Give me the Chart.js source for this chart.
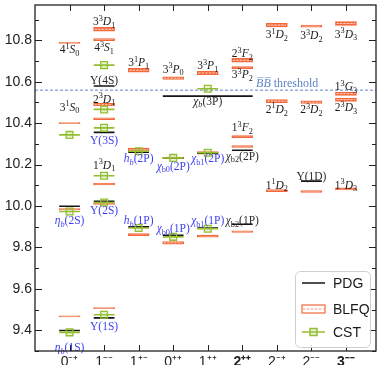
<!DOCTYPE html>
<html>
<head>
<meta charset="utf-8">
<title>Bottomonium spectrum</title>
<script src="https://cdn.jsdelivr.net/npm/chart.js@4.4.0/dist/chart.umd.min.js"></script>
<style>
  body { margin: 0; background: #fff; }
  #wrap { width: 377px; height: 365px; position: relative; }
</style>
</head>
<body>
<div id="wrap"><canvas id="spectrum"></canvas></div>
<script>
'use strict'

// Bottomonium spectrum: PDG vs BLFQ vs CST, grouped by J^PC

// x axis categories
let categories = ['0⁻⁺', '1⁻⁻', '1⁺⁻', '0⁺⁺', '1⁺⁺', '2⁺⁺', '2⁻⁺', '2⁻⁻', '3⁻⁻'];
let boldCategories = ['2⁺⁺', '3⁻⁻'];
let yTicks = [9.4, 9.6, 9.8, 10.0, 10.2, 10.4, 10.6, 10.8];

// PDG masses (GeV); chi_b(3P) spans 0++ .. 2++
let pdgFrom = [0, 0, 1, 1, 1, 1, 2, 2, 3, 3, 4, 4, 5, 5, 7, 3];
let pdgTo = [0, 0, 1, 1, 1, 1, 2, 2, 3, 3, 4, 4, 5, 5, 7, 5];
let pdgMass = [9.399, 9.999, 9.460, 10.023, 10.355, 10.579, 9.899, 10.260, 9.859, 10.233, 9.893, 10.255, 9.912, 10.269, 10.120, 10.530];

// BLFQ masses and their uncertainty (half width, GeV)
let blfqCat = [0, 0, 0, 0, 1, 1, 1, 1, 1, 1, 1, 2, 2, 2, 3, 3, 3, 4, 4, 4, 5, 5, 5, 5, 5, 6, 6, 6, 7, 7, 7, 8, 8, 8, 8];
let blfqMass = [9.467, 9.984, 10.400, 10.787,
  9.507, 10.011, 10.106, 10.421, 10.489, 10.803, 10.853,
  9.862, 10.271, 10.655,
  9.822, 10.232, 10.617,
  9.854, 10.256, 10.642,
  9.876, 10.287, 10.335, 10.668, 10.703,
  10.074, 10.506, 10.873,
  10.070, 10.501, 10.868,
  10.082, 10.513, 10.542, 10.881];
let blfqErr = [0.003, 0.003, 0.003, 0.003,
  0.003, 0.004, 0.004, 0.004, 0.006, 0.005, 0.009,
  0.005, 0.008, 0.009,
  0.006, 0.004, 0.006,
  0.005, 0.006, 0.008,
  0.004, 0.005, 0.005, 0.005, 0.009,
  0.005, 0.008, 0.009,
  0.004, 0.006, 0.005,
  0.005, 0.008, 0.008, 0.009];

// CST masses
let cstCat = [0, 0, 0, 1, 1, 1, 1, 1, 1, 2, 2, 3, 3, 4, 4, 4];
let cstMass = [9.390, 9.973, 10.343, 9.475, 10.017, 10.146, 10.377, 10.466, 10.680, 9.894, 10.264, 9.851, 10.232, 9.890, 10.257, 10.566];

let bbThreshold = 10.559;

// state names (markup: *italic*, ^{sup}, _{sub})
let labelText = [
  '4^{1}*S*_{0}', '3^{1}*S*_{0}', '*η*_{*b*}(2S)', '*η*_{*b*}(1S)',
  '3^{3}*D*_{1}', '4^{3}*S*_{1}', 'Υ(4S)', '2^{3}*D*_{1}', 'Υ(3S)', '1^{3}*D*_{1}', 'Υ(2S)', 'Υ(1S)',
  '3^{1}*P*_{1}', '*h*_{*b*}(2P)', '*h*_{*b*}(1P)',
  '3^{3}*P*_{0}', '*χ*_{b0}(2P)', '*χ*_{b0}(1P)',
  '3^{3}*P*_{1}', '*χ*_{*b*}(3P)', '*χ*_{b1}(2P)', '*χ*_{b1}(1P)',
  '2^{3}*F*_{2}', '3^{3}*P*_{2}', '1^{3}*F*_{2}', '*χ*_{b2}(2P)', '*χ*_{b2}(1P)',
  '3^{1}*D*_{2}', '2^{1}*D*_{2}', '1^{1}*D*_{2}',
  '3^{3}*D*_{2}', '2^{3}*D*_{2}', 'Υ(1D)',
  '3^{3}*D*_{3}', '1^{3}*G*_{3}', '2^{3}*D*_{3}', '1^{3}*D*_{3}'
];
let labelCat = [0, 0, 0, 0, 1, 1, 1, 1, 1, 1, 1, 1, 2, 2, 2, 3, 3, 3, 4, 4, 4, 4, 5, 5, 5, 5, 5, 6, 6, 6, 7, 7, 7, 8, 8, 8, 8];
let labelMass = [10.756, 10.480, 9.932, 9.318,
  10.893, 10.768, 10.606, 10.518, 10.319, 10.200, 9.980, 9.420,
  10.695, 10.232, 9.933,
  10.663, 10.195, 9.893,
  10.679, 10.509, 10.232, 9.933,
  10.737, 10.635, 10.380, 10.243, 9.933,
  10.828, 10.469, 10.103,
  10.824, 10.466, 10.146,
  10.832, 10.577, 10.477, 10.103];
let labelKind = ['state', 'state', 'exp', 'exp',
  'state', 'state', 'expDark', 'state', 'exp', 'state', 'exp', 'exp',
  'state', 'exp', 'exp',
  'state', 'exp', 'exp',
  'state', 'expDark', 'exp', 'exp',
  'state', 'state', 'state', 'expDark', 'expDark',
  'state', 'state', 'state',
  'state', 'state', 'expDark',
  'state', 'state', 'state', 'state'];

let thresholdText = '*B̅B̅* threshold';
let thresholdCat = 6.3;
let thresholdMass = 10.593;

// colours
const black = '#151515';
const orange = '#f2683a';
const orangeLight = '#fcd2c0';
const green = '#93bf30';
const blue = '#3f3ff0';
const steel = '#5f84c6';
const halfW = 0.3;

// Build level segments, a null point breaks the line between levels
let pdgPoints = [];
for (let i = 0; i < pdgMass.length; i++) {
  pdgPoints.push({ x: pdgFrom[i] - halfW, y: pdgMass[i] });
  pdgPoints.push({ x: pdgTo[i] + halfW, y: pdgMass[i] });
  pdgPoints.push({ x: pdgTo[i] + halfW, y: null });
}

let cstPoints = [];
for (let i = 0; i < cstMass.length; i++) {
  cstPoints.push({ x: cstCat[i] - halfW, y: cstMass[i] });
  cstPoints.push({ x: cstCat[i], y: cstMass[i] });
  cstPoints.push({ x: cstCat[i] + halfW, y: cstMass[i] });
  cstPoints.push({ x: cstCat[i] + halfW, y: null });
}

let blfqBars = blfqMass.map((m, i) => ({ x: blfqCat[i], y: [m - blfqErr[i], m + blfqErr[i]] }));
let blfqCenter = [];
for (let i = 0; i < blfqMass.length; i++) {
  if (blfqErr[i] < 0.006) continue;
  blfqCenter.push({ x: blfqCat[i] - halfW + 0.03, y: blfqMass[i] });
  blfqCenter.push({ x: blfqCat[i] + halfW - 0.03, y: blfqMass[i] });
  blfqCenter.push({ x: blfqCat[i] + halfW, y: null });
}

// tiny rich text renderer for the state names
function parseRich(str) {
  let runs = [];
  let italic = false;
  let mode = 'n';
  let buf = '';
  function flush() {
    if (buf) runs.push({ text: buf, italic: italic, mode: mode });
    buf = '';
  }
  for (let i = 0; i < str.length; i++) {
    let ch = str[i];
    if (ch === '*') { flush(); italic = !italic; }
    else if ((ch === '^' || ch === '_') && str[i + 1] === '{') { flush(); mode = ch === '^' ? 'sup' : 'sub'; i++; }
    else if (ch === '}' && mode !== 'n') { flush(); mode = 'n'; }
    else buf += ch;
  }
  flush();
  return runs;
}

function drawRich(ctx, str, cx, cy, size, color) {
  let runs = parseRich(str);
  let total = 0;
  runs.forEach(r => {
    let s = r.mode === 'n' ? size : size * 0.72;
    r.font = (r.italic ? 'italic ' : '') + s + 'px "Liberation Serif"';
    ctx.font = r.font;
    r.w = ctx.measureText(r.text).width;
    total += r.w;
  });
  let x = cx - total / 2;
  let base = cy + size * 0.35;
  ctx.fillStyle = color;
  ctx.textBaseline = 'alphabetic';
  ctx.textAlign = 'left';
  runs.forEach(r => {
    let dy = r.mode === 'sup' ? -size * 0.38 : (r.mode === 'sub' ? size * 0.24 : 0);
    ctx.font = r.font;
    ctx.fillText(r.text, x, base + dy);
    x += r.w;
  });
}

const stateLabels = {
  id: 'stateLabels',
  afterDatasetsDraw(chart) {
    const { ctx, scales: { x, y } } = chart;
    ctx.save();
    for (let i = 0; i < labelText.length; i++) {
      let color = labelKind[i] === 'exp' ? blue : (labelKind[i] === 'expDark' ? '#2a2a2a' : '#1a1a1a');
      drawRich(ctx, labelText[i], x.getPixelForValue(labelCat[i]), y.getPixelForValue(labelMass[i]), 11.5, color);
    }
    drawRich(ctx, thresholdText, x.getPixelForValue(thresholdCat), y.getPixelForValue(thresholdMass), 12, steel);
    ctx.restore();
  }
};

// frame with inward ticks on all four sides
const frameTicks = {
  id: 'frameTicks',
  afterDraw(chart) {
    const { ctx, chartArea: a, scales: { x, y } } = chart;
    ctx.save();
    ctx.strokeStyle = '#222';
    ctx.lineWidth = 1.3;
    ctx.strokeRect(a.left, a.top, a.right - a.left, a.bottom - a.top);
    ctx.lineWidth = 1;
    ctx.beginPath();
    for (let k = 93; k <= 109; k++) {
      let py = Math.round(y.getPixelForValue(k / 10)) + 0.5;
      let len = k % 2 === 0 ? 7 : 4;
      ctx.moveTo(a.left, py); ctx.lineTo(a.left + len, py);
      ctx.moveTo(a.right, py); ctx.lineTo(a.right - len, py);
    }
    for (let c = 0; c < categories.length; c++) {
      let px = Math.round(x.getPixelForValue(c)) + 0.5;
      ctx.moveTo(px, a.bottom); ctx.lineTo(px, a.bottom - 6);
      ctx.moveTo(px, a.top); ctx.lineTo(px, a.top + 6);
    }
    ctx.stroke();
    ctx.restore();
  }
};

const legendBox = {
  id: 'legendBox',
  afterDraw(chart) {
    const { ctx, chartArea: a } = chart;
    const w = 75, h = 76;
    const left = a.right - w - 6;
    const top = a.bottom - h - 4;
    ctx.save();
    ctx.fillStyle = 'rgba(255,255,255,0.85)';
    ctx.strokeStyle = '#cfcfcf';
    ctx.lineWidth = 1;
    ctx.beginPath();
    ctx.roundRect(left + 0.5, top + 0.5, w, h, 5);
    ctx.fill();
    ctx.stroke();

    const rows = [top + 12, top + 38, top + 61];
    const sx0 = left + 7, sx1 = left + 30;
    // PDG
    ctx.strokeStyle = black;
    ctx.lineWidth = 1.5;
    ctx.beginPath(); ctx.moveTo(sx0, rows[0]); ctx.lineTo(sx1, rows[0]); ctx.stroke();
    // BLFQ
    ctx.strokeStyle = orange;
    ctx.lineWidth = 1.2;
    ctx.strokeRect(sx0, rows[1] - 4, sx1 - sx0, 8);
    ctx.setLineDash([2.5, 1.5]);
    ctx.strokeStyle = '#f59a78';
    ctx.beginPath(); ctx.moveTo(sx0 + 1, rows[1]); ctx.lineTo(sx1 - 1, rows[1]); ctx.stroke();
    ctx.setLineDash([]);
    // CST
    ctx.strokeStyle = green;
    ctx.lineWidth = 1.5;
    ctx.beginPath(); ctx.moveTo(sx0, rows[2]); ctx.lineTo(sx1, rows[2]); ctx.stroke();
    ctx.fillStyle = 'rgba(147,191,48,0.2)';
    ctx.fillRect((sx0 + sx1) / 2 - 3.5, rows[2] - 3.5, 7, 7);
    ctx.strokeRect((sx0 + sx1) / 2 - 3.5, rows[2] - 3.5, 7, 7);

    ctx.fillStyle = '#1a1a1a';
    ctx.font = '14px "Liberation Sans"';
    ctx.textBaseline = 'middle';
    ctx.fillText('PDG', left + 38, rows[0] + 1);
    ctx.fillText('BLFQ', left + 38, rows[1] + 1);
    ctx.fillText('CST', left + 38, rows[2] + 1);
    ctx.restore();
  }
};

Chart.defaults.font.family = '"Liberation Sans"';

let config = {
  type: 'line',
  data: {
    datasets: [
      {
        label: 'CST', data: cstPoints, borderColor: green, borderWidth: 1.6,
        pointStyle: 'rect', pointRadius: ctx => (ctx.index % 4 === 1 ? 4.8 : 0),
        pointBorderColor: green, pointBackgroundColor: 'rgba(147,191,48,0.2)', pointBorderWidth: 1.3,
        spanGaps: false, order: 0
      },
      {
        label: 'PDG', data: pdgPoints, borderColor: black, borderWidth: 1.6,
        pointRadius: 0, spanGaps: false, order: 1
      },
      {
        label: 'BLFQ center', data: blfqCenter, borderColor: orangeLight, borderWidth: 1,
        borderDash: [2, 1.5], pointRadius: 0, spanGaps: false, order: 2
      },
      {
        type: 'bar', label: 'BLFQ', data: blfqBars, backgroundColor: 'rgba(242,104,58,0.75)',
        borderColor: orange, borderWidth: 1, borderSkipped: false, barThickness: 21, order: 3
      },
      {
        label: 'threshold', data: [{ x: -1, y: bbThreshold }, { x: 8.87, y: bbThreshold }],
        borderColor: steel, borderWidth: 1, borderDash: [3, 2], pointRadius: 0, order: 4
      }
    ]
  },
  options: {
    responsive: true,
    maintainAspectRatio: false,
    animation: false,
    layout: { padding: { top: 5, right: 1, left: 0, bottom: 0 } },
    plugins: { legend: { display: false }, tooltip: { enabled: false } },
    scales: {
      x: {
        type: 'linear', min: -1, max: 8.87, offset: false,
        grid: { display: false, drawTicks: false }, border: { display: false },
        afterBuildTicks: scale => { scale.ticks = categories.map((c, i) => ({ value: i })); },
        afterFit: scale => { scale.height = 14; scale.paddingLeft = 0; scale.paddingRight = 0; },
        ticks: {
          padding: 3, color: '#222', maxRotation: 0, autoSkip: false,
          callback: value => categories[value],
          font: ctx => ({
            size: 14,
            weight: ctx.tick && boldCategories.includes(categories[ctx.tick.value]) ? 'bold' : 'normal'
          })
        }
      },
      y: {
        type: 'linear', min: 9.30, max: 10.97,
        grid: { display: false, drawTicks: false }, border: { display: false },
        afterBuildTicks: scale => { scale.ticks = yTicks.map(v => ({ value: v })); },
        afterFit: scale => { scale.width = 35; scale.paddingTop = 0; scale.paddingBottom = 0; },
        ticks: { padding: 3, color: '#222', font: { size: 14 }, callback: value => value.toFixed(1) }
      }
    }
  },
  plugins: [stateLabels, frameTicks, legendBox]
};

const spectrumChart = new Chart(document.getElementById('spectrum'), config);
</script>
</body>
</html>
